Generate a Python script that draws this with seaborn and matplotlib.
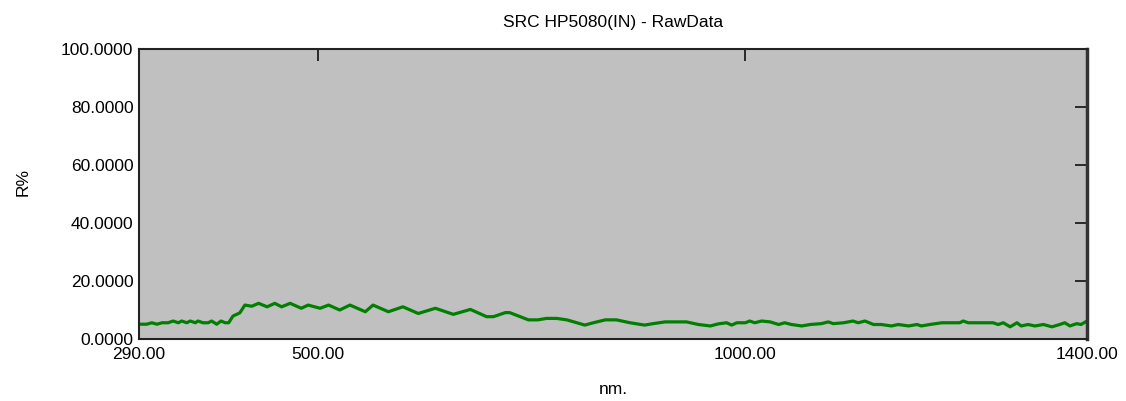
import numpy as np
import pandas as pd
import matplotlib
matplotlib.use("Agg")
import matplotlib.pyplot as plt
import seaborn as sns

# Wavelength (nm) and reflectance (R%)
nm = [290, 299, 305, 311, 317, 324, 330, 336, 340, 346, 350, 356, 359, 365,
      371, 375, 381, 386, 391, 395, 400, 408, 414, 422, 430, 440, 449, 457,
      467, 480, 488, 502, 512, 525, 537, 555, 564, 582, 599, 617, 637, 658,
      678, 697, 705, 719, 724, 746, 757, 767, 779, 791, 812, 822, 836, 849,
      865, 882, 892, 906, 931, 945, 959, 968, 978, 984, 990, 1000, 1005, 1011,
      1019, 1029, 1039, 1046, 1054, 1066, 1076, 1089, 1097, 1103, 1115, 1126,
      1132, 1140, 1150, 1159, 1171, 1179, 1191, 1201, 1206, 1216, 1230, 1251,
      1255, 1261, 1290, 1296, 1302, 1310, 1318, 1323, 1331, 1339, 1349, 1359,
      1368, 1374, 1380, 1388, 1393, 1400]
reflect = [5.1, 5.1, 5.6, 5.1, 5.6, 5.6, 6.2, 5.6, 6.2, 5.6, 6.2, 5.6, 6.2, 5.6,
           5.6, 6.2, 5.1, 6.2, 5.6, 5.6, 7.9, 9.0, 11.7, 11.3, 12.3, 11.1, 12.3, 11.1,
           12.3, 10.6, 11.7, 10.6, 11.7, 10.0, 11.7, 9.4, 11.7, 9.4, 11.1, 8.8, 10.6, 8.5,
           10.2, 7.7, 7.7, 9.1, 9.1, 6.6, 6.6, 7.1, 7.1, 6.6, 4.8, 5.6, 6.6, 6.6,
           5.6, 4.8, 5.3, 5.9, 5.9, 5.0, 4.5, 5.2, 5.6, 4.8, 5.6, 5.6, 6.2, 5.6,
           6.2, 5.9, 5.0, 5.6, 5.0, 4.5, 5.0, 5.3, 5.9, 5.3, 5.6, 6.2,
           5.6, 6.2, 5.0, 5.0, 4.5, 5.0, 4.5, 5.0, 4.5, 5.0, 5.6, 5.6,
           6.2, 5.6, 5.6, 5.0, 5.6, 4.2, 5.6, 4.5, 5.0, 4.5, 5.0, 4.2,
           5.0, 5.6, 4.5, 5.3, 5.0, 6.2]

x_ticks = [290, 500, 1000, 1400]
y_ticks = [0, 20, 40, 60, 80, 100]

df = pd.DataFrame({"nm": nm, "R": reflect})

sns.set_style("white")
plt.rcParams["font.family"] = ["Liberation Sans", "DejaVu Sans"]
plt.rcParams["text.color"] = "black"
plt.rcParams["xtick.labelcolor"] = "black"
plt.rcParams["ytick.labelcolor"] = "black"

W, H = 1126, 401
fig = plt.figure(figsize=(W / 100, H / 100), dpi=100)
# plot area in pixels: x 139..1087, y 49..339
ax = fig.add_axes([139 / W, 1 - 339 / H, (1087 - 139) / W, (339 - 49) / H])
ax.set_facecolor("#c0c0c0")

sns.lineplot(data=df, x="nm", y="R", ax=ax, color="#008000", linewidth=2.3)

ax.set_xlim(290, 1400)
ax.set_ylim(0, 100)
ax.set_xticks(x_ticks)
ax.set_xticklabels([f"{v:.2f}" for v in x_ticks])
ax.set_yticks(y_ticks)
ax.set_yticklabels([f"{v:.4f}" for v in y_ticks])
ax.tick_params(direction="in", length=8.6, width=1.1, color="black",
               labelcolor="black", top=True, right=True, labelsize=12.5, pad=4)
ax.tick_params(axis="x", pad=6)

for side in ["left", "bottom", "top"]:
    ax.spines[side].set_color("#222222")
    ax.spines[side].set_linewidth(1.5)
ax.spines["right"].set_color("#333333")
ax.spines["right"].set_linewidth(2.5)

ax.set_xlabel("")
ax.set_ylabel("")
fig.text(613 / W, 1 - 22 / H, "SRC HP5080(IN) - RawData", ha="center", va="center",
         fontsize=12.5, color="black")
fig.text(613 / W, 1 - 390 / H, "nm.", ha="center", va="center", fontsize=12.5,
         color="black")
fig.text(23 / W, 1 - 182 / H, "R%", ha="center", va="center", rotation=90,
         fontsize=12.5, color="black")

fig.savefig("out.png", dpi=100)
